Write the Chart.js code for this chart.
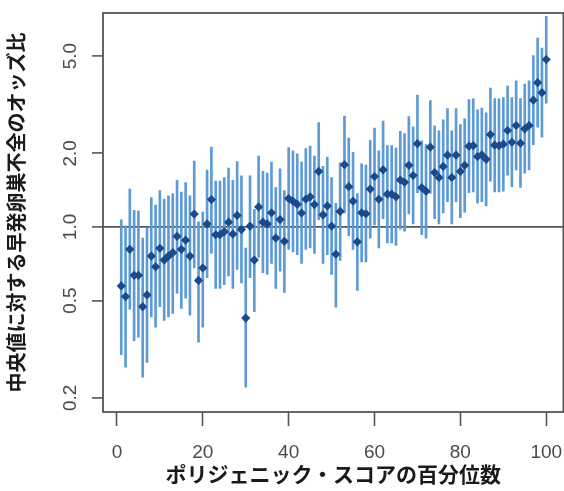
<!DOCTYPE html>
<html>
<head>
<meta charset="utf-8">
<script src="https://cdn.jsdelivr.net/npm/chart.js@4.4.1/dist/chart.umd.min.js"></script>
<style>
  html, body { margin: 0; padding: 0; background: #fff; overflow: hidden; }
  #wrap { width: 568px; height: 491px; }
</style>
</head>
<body>
<div id="wrap"><canvas id="orChart" width="568" height="491"></canvas></div>
<script>
const percentiles = [
  1, 2, 3, 4, 5, 6, 7, 8, 9, 10, 11, 12, 13, 14, 15, 16, 17, 18, 19, 20,
  21, 22, 23, 24, 25, 26, 27, 28, 29, 30, 31, 32, 33, 34, 35, 36, 37, 38, 39, 40,
  41, 42, 43, 44, 45, 46, 47, 48, 49, 50, 51, 52, 53, 54, 55, 56, 57, 58, 59, 60,
  61, 62, 63, 64, 65, 66, 67, 68, 69, 70, 71, 72, 73, 74, 75, 76, 77, 78, 79, 80,
  81, 82, 83, 84, 85, 86, 87, 88, 89, 90, 91, 92, 93, 94, 95, 96, 97, 98, 99, 100
];
const oddsRatio = [
  0.574, 0.519, 0.810, 0.634, 0.634, 0.472, 0.527, 0.760, 0.687, 0.818,
  0.732, 0.760, 0.785, 0.915, 0.810, 0.883, 0.760, 1.129, 0.604, 0.680,
  1.029, 1.294, 0.929, 0.929, 0.956, 1.046, 0.935, 1.114, 0.975, 0.424,
  1.007, 0.732, 1.207, 1.046, 1.029, 1.143, 0.900, 1.072, 0.873, 1.307,
  1.274, 1.237, 1.140, 1.298, 1.328, 1.234, 1.686, 1.121, 1.219, 1.007,
  0.773, 1.157, 1.797, 1.461, 1.274, 0.869, 1.143, 1.132, 1.428, 1.608,
  1.298, 1.713, 1.362, 1.362, 1.328, 1.556, 1.523, 1.786, 1.623, 2.19,
  1.447, 1.401, 2.12, 1.670, 1.593, 1.768, 1.966, 1.593, 1.966, 1.686,
  1.786, 2.14, 2.15, 1.940, 1.970, 1.891, 2.386, 2.16, 2.15, 2.18,
  2.48, 2.22, 2.60, 2.20, 2.52, 2.60, 3.30, 3.89, 3.54, 4.84
];
const ciLower = [
  0.30, 0.267, 0.461, 0.343, 0.354, 0.243, 0.279, 0.428, 0.389, 0.472,
  0.415, 0.428, 0.443, 0.536, 0.464, 0.511, 0.436, 0.680, 0.338, 0.389,
  0.62, 0.78, 0.56, 0.56, 0.58, 0.63, 0.56, 0.67, 0.59, 0.221,
  0.62, 0.45, 0.75, 0.65, 0.64, 0.71, 0.56, 0.66, 0.54, 0.81,
  0.79, 0.77, 0.71, 0.81, 0.82, 0.78, 1.07, 0.71, 0.77, 0.64,
  0.47, 0.73, 1.14, 0.92, 0.81, 0.55, 0.72, 0.72, 0.90, 1.02,
  0.82, 1.08, 0.86, 0.86, 0.84, 0.98, 0.96, 1.13, 1.03, 1.38,
  0.93, 0.90, 1.37, 1.08, 1.03, 1.14, 1.27, 1.03, 1.27, 1.09,
  1.15, 1.38, 1.39, 1.25, 1.27, 1.22, 1.54, 1.39, 1.39, 1.40,
  1.63, 1.46, 1.71, 1.45, 1.66, 1.71, 2.17, 2.56, 2.33, 3.21
];
const ciUpper = [
  1.07, 1.01, 1.43, 1.17, 1.16, 0.90, 0.99, 1.32, 1.23, 1.41,
  1.30, 1.34, 1.37, 1.55, 1.39, 1.52, 1.34, 1.86, 1.05, 1.15,
  1.71, 2.12, 1.54, 1.54, 1.59, 1.74, 1.55, 1.85, 1.62, 0.82,
  1.62, 1.18, 1.95, 1.69, 1.66, 1.84, 1.45, 1.73, 1.41, 2.11,
  2.05, 1.99, 1.84, 2.09, 2.14, 1.95, 2.67, 1.77, 1.93, 1.59,
  1.25, 1.83, 2.84, 2.31, 2.02, 1.37, 1.81, 1.79, 2.26, 2.54,
  2.05, 2.71, 2.15, 2.15, 2.10, 2.46, 2.41, 2.83, 2.57, 3.46,
  2.25, 2.17, 3.29, 2.59, 2.47, 2.74, 3.05, 2.47, 3.05, 2.62,
  2.77, 3.32, 3.34, 3.01, 3.06, 2.93, 3.70, 3.35, 3.34, 3.38,
  3.77, 3.38, 3.96, 3.35, 3.84, 3.96, 5.02, 5.92, 5.39, 7.27
];
const xTicks = [0, 20, 40, 60, 80, 100];
const yTicks = [0.2, 0.5, 1, 2, 5];

const axisGray = '#555555';
const labelFont = { family: 'Liberation Sans', size: 19 };
const titleFamily = '"Noto Sans CJK JP", "Noto Sans", sans-serif';

// plot frame like R's box()
const boxPlugin = {
  id: 'box',
  afterDraw(chart) {
    const a = chart.chartArea;
    const c = chart.ctx;
    c.save();
    c.strokeStyle = axisGray;
    c.lineWidth = 1.8;
    c.strokeRect(a.left, a.top, a.right - a.left, a.bottom - a.top);
    c.restore();
  }
};

const ctx = document.getElementById('orChart').getContext('2d');
new Chart(ctx, {
  type: 'bar',
  data: {
    datasets: [{
      type: 'scatter',
      label: 'オッズ比',
      data: percentiles.map((p, i) => ({ x: p, y: oddsRatio[i] })),
      pointStyle: 'rectRot',
      pointRadius: 4.6,
      backgroundColor: '#1b4a8a',
      borderWidth: 0,
      order: 1
    }, {
      type: 'bar',
      label: '95%CI',
      data: percentiles.map((p, i) => ({ x: p, y: [ciLower[i], ciUpper[i]] })),
      backgroundColor: '#5d9ad6',
      borderWidth: 0,
      barThickness: 2,
      grouped: false,
      order: 2
    }]
  },
  options: {
    responsive: false,
    animation: false,
    devicePixelRatio: 1,
    layout: { padding: { top: 13, right: 3, left: 0, bottom: 0 } },
    plugins: {
      legend: { display: false },
      tooltip: { enabled: false }
    },
    scales: {
      x: {
        type: 'linear',
        offset: false,
        min: -3.25,
        max: 104,
        afterFit: s => { s.height = 79; s.paddingLeft = 0; s.paddingRight = 0; },
        afterBuildTicks: s => { s.ticks = xTicks.map(v => ({ value: v })); },
        border: { display: false },
        grid: { offset: false, drawOnChartArea: false, tickLength: 14, tickColor: axisGray, tickWidth: 1.6 },
        ticks: { font: labelFont, color: '#4a4a4a', padding: 15, maxRotation: 0 },
        title: {
          display: true,
          text: 'ポリジェニック・スコアの百分位数',
          font: { family: titleFamily, size: 21, weight: 'bold' },
          color: '#1a1a1a',
          padding: { top: 0, bottom: 4 }
        }
      },
      y: {
        type: 'logarithmic',
        min: 0.175,
        max: 7.5,
        afterFit: s => { s.width = 103; s.paddingTop = 0; s.paddingBottom = 0; },
        afterBuildTicks: s => { s.ticks = yTicks.map(v => ({ value: v })); },
        border: { display: false },
        grid: {
          drawOnChartArea: true,
          color: c => (c.tick && c.tick.value === 1) ? axisGray : 'rgba(0,0,0,0)',
          lineWidth: 1.8,
          tickLength: 11,
          tickColor: axisGray,
          tickWidth: 1.6
        },
        ticks: {
          font: labelFont,
          color: '#4a4a4a',
          minRotation: 90,
          maxRotation: 90,
          crossAlign: 'center',
          padding: 8,
          callback: v => Number(v).toFixed(1)
        },
        title: {
          display: true,
          text: '中央値に対する早発卵巣不全のオッズ比',
          font: { family: titleFamily, size: 20, weight: 'bold' },
          color: '#1a1a1a',
          padding: { top: 4, bottom: 0 }
        }
      }
    }
  },
  plugins: [boxPlugin]
});
</script>
</body>
</html>
